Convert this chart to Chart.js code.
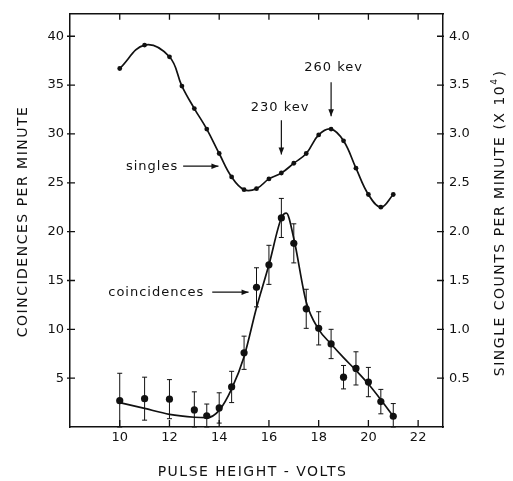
<!DOCTYPE html>
<html>
<head>
<meta charset="utf-8">
<script src="https://cdn.jsdelivr.net/npm/chart.js@4.4.1/dist/chart.umd.min.js"></script>
<style>
  html, body { margin: 0; padding: 0; background: #fff; }
  #wrap { width: 513px; height: 481px; position: relative; }
</style>
</head>
<body>
<div id="wrap"><canvas id="chart"></canvas></div>
<script>
// singles counts (x 10^4 per minute) against pulse height
const singlesVolts = [10, 11, 12, 12.5, 13, 13.5, 14, 14.5, 15, 15.5, 16, 16.5, 17, 17.5, 18, 18.5, 19, 19.5, 20, 20.5, 21];
const singlesCounts = [3.67, 3.91, 3.79, 3.49, 3.26, 3.05, 2.80, 2.56, 2.43, 2.44, 2.54, 2.60, 2.70, 2.80, 2.99, 3.05, 2.93, 2.65, 2.38, 2.25, 2.38];

// coincidences per minute and the half length of each error bar
const coincVolts = [10, 11, 12, 13, 13.5, 14, 14.5, 15, 15.5, 16, 16.5, 17, 17.5, 18, 18.5, 19, 19.5, 20, 20.5, 21];
const coincRate = [2.7, 2.9, 2.85, 1.75, 1.15, 1.95, 4.1, 7.6, 14.3, 16.6, 21.4, 18.8, 12.1, 10.1, 8.5, 5.1, 6.0, 4.6, 2.6, 1.1];
const coincErr = [2.8, 2.2, 2.0, 1.85, 1.2, 1.55, 1.6, 1.7, 2.0, 2.0, 2.0, 2.0, 2.0, 1.7, 1.5, 1.2, 1.7, 1.5, 1.25, 1.3];

// the smooth curve drawn through the coincidences
const fitVolts = [10, 11, 12, 13, 13.5, 14, 14.5, 15, 15.5, 16, 16.5, 16.7, 17, 17.5, 18, 18.5, 19, 19.5, 20, 20.5, 21];
const fitRate = [2.5, 1.9, 1.3, 1.0, 0.95, 1.7, 3.9, 7.2, 12.2, 16.6, 21.4, 21.9, 19.3, 12.8, 10.0, 8.5, 7.1, 5.8, 4.4, 2.8, 1.1];

// tick labels
const xTicks = [10, 12, 14, 16, 18, 20, 22];
const leftTicks = [5, 10, 15, 20, 25, 30, 35, 40];
const rightTicks = [0.5, 1.0, 1.5, 2.0, 2.5, 3.0, 3.5, 4.0];

// callouts, in data units of the x axis and the left axis
const callouts = [
  { text: 'singles', x: 11.3, y: 26.7, from: [12.55, 26.7], to: [13.97, 26.7] },
  { text: 'coincidences', x: 11.47, y: 13.8, from: [13.72, 13.8], to: [15.18, 13.8] },
  { text: '230 kev', x: 16.45, y: 32.7, from: [16.5, 31.4], to: [16.5, 27.9] },
  { text: '260 kev', x: 18.6, y: 36.8, from: [18.5, 35.3], to: [18.5, 31.8] }
];

const FONT = '"DejaVu Sans", sans-serif';
const INK = '#111';

function pts(xs, ys) {
  return xs.map((x, i) => ({ x: x, y: ys[i] }));
}

function arrow(ctx, x1, y1, x2, y2) {
  ctx.beginPath();
  ctx.moveTo(x1, y1);
  ctx.lineTo(x2, y2);
  ctx.stroke();
  const a = Math.atan2(y2 - y1, x2 - x1), L = 7, w = 2.8;
  ctx.beginPath();
  ctx.moveTo(x2, y2);
  ctx.lineTo(x2 - L * Math.cos(a) + w * Math.sin(a), y2 - L * Math.sin(a) - w * Math.cos(a));
  ctx.lineTo(x2 - L * Math.cos(a) - w * Math.sin(a), y2 - L * Math.sin(a) + w * Math.cos(a));
  ctx.closePath();
  ctx.fill();
}

const extras = {
  id: 'extras',
  afterDatasetsDraw(chart) {
    const ctx = chart.ctx;
    const sx = chart.scales.x, sy = chart.scales.y;
    ctx.save();
    ctx.strokeStyle = INK;
    ctx.fillStyle = INK;

    // error bars
    ctx.lineWidth = 1;
    coincVolts.forEach((v, i) => {
      const px = sx.getPixelForValue(v);
      const top = sy.getPixelForValue(coincRate[i] + coincErr[i]);
      const bot = Math.min(sy.getPixelForValue(Math.max(coincRate[i] - coincErr[i], 0)), sy.bottom);
      ctx.beginPath();
      ctx.moveTo(px, top); ctx.lineTo(px, bot);
      ctx.moveTo(px - 2.5, top); ctx.lineTo(px + 2.5, top);
      ctx.moveTo(px - 2.5, bot); ctx.lineTo(px + 2.5, bot);
      ctx.stroke();
    });

    // callouts
    ctx.font = '13px ' + FONT;
    ctx.letterSpacing = '1px';
    ctx.textAlign = 'center';
    ctx.textBaseline = 'middle';
    ctx.lineWidth = 1.2;
    callouts.forEach(c => {
      ctx.fillText(c.text, sx.getPixelForValue(c.x), sy.getPixelForValue(c.y));
      arrow(ctx, sx.getPixelForValue(c.from[0]), sy.getPixelForValue(c.from[1]),
        sx.getPixelForValue(c.to[0]), sy.getPixelForValue(c.to[1]));
    });
    ctx.restore();
  },
  afterDraw(chart) {
    const ctx = chart.ctx;
    const a = chart.chartArea;
    const s = chart.scales;
    ctx.save();
    ctx.strokeStyle = INK;
    ctx.lineWidth = 1.3;
    ctx.beginPath();
    s.x.ticks.forEach(t => {
      const p = s.x.getPixelForValue(t.value);
      ctx.moveTo(p, a.bottom); ctx.lineTo(p, a.bottom - 7);
      ctx.moveTo(p, a.top); ctx.lineTo(p, a.top + 6);
    });
    s.y.ticks.forEach(t => {
      const p = s.y.getPixelForValue(t.value);
      ctx.moveTo(a.left - 3, p); ctx.lineTo(a.left + 5, p);
    });
    s.y2.ticks.forEach(t => {
      const p = s.y2.getPixelForValue(t.value);
      ctx.moveTo(a.right - 6, p); ctx.lineTo(a.right + 1, p);
    });
    ctx.stroke();

    // axis titles
    ctx.fillStyle = INK;
    ctx.font = '14px ' + FONT;
    ctx.letterSpacing = '1.5px';
    ctx.textAlign = 'center';
    ctx.textBaseline = 'middle';
    ctx.fillText('PULSE HEIGHT - VOLTS', (a.left + a.right) / 2 - 4, 472);

    ctx.save();
    ctx.translate(23, (a.top + a.bottom) / 2 + 1);
    ctx.rotate(-Math.PI / 2);
    ctx.fillText('COINCIDENCES PER MINUTE', 0, 0);
    ctx.restore();

    ctx.save();
    ctx.translate(500, (a.top + a.bottom) / 2 + 3);
    ctx.rotate(-Math.PI / 2);
    ctx.textAlign = 'left';
    const main = 'SINGLE COUNTS PER MINUTE (X 10';
    const w1 = ctx.measureText(main).width;
    ctx.font = '9px ' + FONT;
    const w2 = ctx.measureText('4').width;
    ctx.font = '14px ' + FONT;
    const w3 = ctx.measureText(')').width;
    let x0 = -(w1 + w2 + w3) / 2;
    ctx.fillText(main, x0, 0);
    ctx.font = '9px ' + FONT;
    ctx.fillText('4', x0 + w1, -5);
    ctx.font = '14px ' + FONT;
    ctx.fillText(')', x0 + w1 + w2 + 1, 0);
    ctx.restore();
    ctx.restore();
  }
};

const tickFont = { family: FONT, size: 13 };

new Chart(document.getElementById('chart'), {
  type: 'scatter',
  data: {
    datasets: [
      {
        label: 'singles',
        data: pts(singlesVolts, singlesCounts),
        yAxisID: 'y2',
        showLine: true,
        tension: 0.4,
        borderColor: INK,
        borderWidth: 1.7,
        pointRadius: 2.4,
        pointBackgroundColor: INK,
        pointBorderWidth: 0
      },
      {
        label: 'coincidence curve',
        data: pts(fitVolts, fitRate),
        yAxisID: 'y',
        showLine: true,
        cubicInterpolationMode: 'monotone',
        borderColor: INK,
        borderWidth: 1.7,
        pointRadius: 0
      },
      {
        label: 'coincidences',
        data: pts(coincVolts, coincRate),
        yAxisID: 'y',
        pointRadius: 3.6,
        pointBackgroundColor: INK,
        pointBorderWidth: 0
      }
    ]
  },
  options: {
    responsive: true,
    maintainAspectRatio: false,
    animation: false,
    layout: { padding: 0 },
    plugins: { legend: { display: false }, tooltip: { enabled: false } },
    scales: {
      x: {
        type: 'linear',
        position: 'bottom',
        min: 8,
        max: 23,
        afterBuildTicks: s => { s.ticks = xTicks.map(v => ({ value: v })); },
        afterFit: s => { s.height = 54; },
        grid: { display: false, drawTicks: false },
        border: { display: true, color: INK, width: 1.5 },
        ticks: { color: INK, font: tickFont, padding: 3, maxRotation: 0, callback: v => v }
      },
      x2: {
        type: 'linear',
        position: 'top',
        min: 8,
        max: 23,
        afterBuildTicks: s => { s.ticks = xTicks.map(v => ({ value: v })); },
        afterFit: s => { s.height = 11; },
        grid: { display: false, drawTicks: false },
        border: { display: true, color: INK, width: 1.5 },
        ticks: { display: false }
      },
      y: {
        type: 'linear',
        position: 'left',
        min: 0,
        max: 42.3,
        afterBuildTicks: s => { s.ticks = leftTicks.map(v => ({ value: v })); },
        afterFit: s => { s.width = 70; },
        grid: { display: false, drawTicks: false },
        border: { display: true, color: INK, width: 1.5 },
        ticks: { color: INK, font: tickFont, padding: 6, callback: v => v }
      },
      y2: {
        type: 'linear',
        position: 'right',
        min: 0,
        max: 4.23,
        afterBuildTicks: s => { s.ticks = rightTicks.map(v => ({ value: v })); },
        afterFit: s => { s.width = 70; },
        grid: { display: false, drawTicks: false },
        border: { display: true, color: INK, width: 1.5 },
        ticks: { color: INK, font: tickFont, padding: 6, callback: v => Number(v).toFixed(1) }
      }
    }
  },
  plugins: [extras]
});
</script>
</body>
</html>
